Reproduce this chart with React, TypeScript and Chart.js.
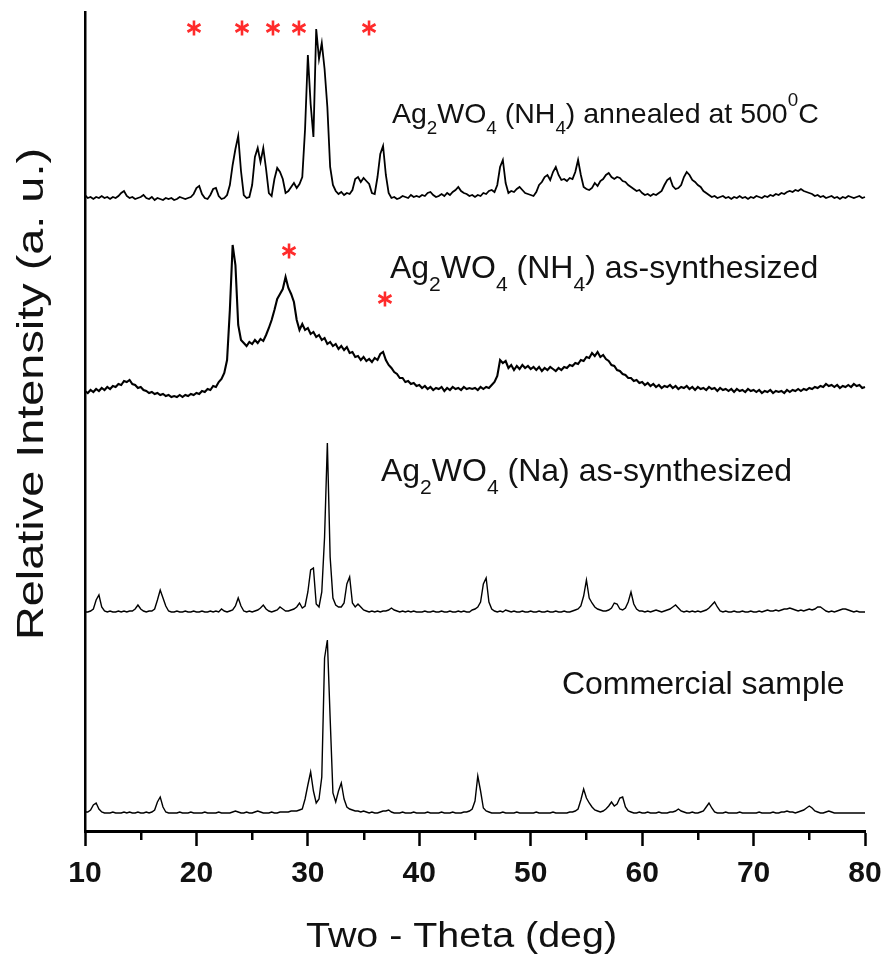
import React, { useEffect, useRef } from 'react';
import { Chart, registerables } from 'chart.js';

Chart.register(...registerables);

// ---- scan grid (two-theta, deg) ----
const THETA_START = 10;
const THETA_STEP = 0.25;
const X_MIN = 10;
const X_MAX = 80;
const X_MAJOR_STEP = 10;
const X_MINOR_TICKS = [15, 25, 35, 45, 55, 65, 75];

// ---- intensities above each pattern's own baseline (a.u.), 10.00 .. 80.00 deg step 0.25 ----
const ANNEALED = [
  4, 1, 2, 0, 2, 1, 3, 1, 2, 0, 2, 1, 3, 6, 8, 3, 1, 2, 0, 1,
  2, 4, 1, 0, 2, -1, 1, 0, -1, 1, 0, 1, -1, 0, 2, 1, 0, 1, 2, 5,
  11, 13, 5, 1, 0, 4, 10, 11, 3, 0, 1, 4, 14, 34, 50, 63, 28, 4, 1, 2,
  14, 42, 51, 37, 51, 30, 6, 3, 20, 31, 27, 20, 6, 8, 12, 16, 11, 15, 22, 70,
  144, 95, 62, 170, 140, 156, 130, 92, 32, 14, 8, 5, 7, 4, 6, 5, 9, 20, 22, 17,
  21, 18, 15, 6, 5, 22, 45, 53, 24, 6, 1, 2, 0, 1, 3, 2, 1, 4, 2, 3,
  2, 4, 3, 6, 7, 4, 2, 3, 5, 3, 6, 4, 7, 9, 12, 8, 6, 5, 3, 4,
  2, 4, 3, 6, 5, 8, 9, 7, 14, 32, 39, 16, 6, 8, 7, 10, 12, 9, 6, 5,
  4, 3, 7, 14, 17, 22, 24, 19, 27, 32, 24, 19, 20, 18, 21, 20, 27, 39, 24, 12,
  10, 9, 11, 16, 13, 18, 20, 24, 26, 22, 20, 22, 21, 18, 17, 14, 12, 10, 8, 9,
  6, 4, 5, 3, 5, 4, 6, 8, 14, 19, 21, 13, 10, 11, 14, 22, 27, 24, 19, 17,
  14, 12, 8, 6, 4, 2, 3, 1, 2, 3, 1, 2, 0, 2, 1, 3, 1, 2, 0, 2,
  1, 3, 2, 1, 3, 2, 4, 3, 5, 4, 6, 5, 7, 8, 7, 9, 8, 10, 8, 7,
  6, 5, 3, 4, 2, 3, 1, 2, 3, 1, 2, 0, 2, 1, 3, 2, 1, 2, 3, 1,
  2,
];

const NH4_AS_SYNTH = [
  -1, -3, 0, -2, 1, -1, 2, 0, 3, 1, 4, 3, 6, 5, 9, 8, 10, 6, 5, 2,
  3, 0, -1, -3, -2, -4, -3, -5, -4, -6, -5, -7, -6, -7, -5, -7, -5, -6, -4, -5,
  -3, -4, -1, -2, 1, 0, 4, 3, 8, 11, 17, 30, 80, 145, 125, 65, 50, 47, 44, 48,
  46, 50, 47, 51, 49, 55, 62, 70, 80, 91, 96, 101, 113, 102, 96, 88, 70, 60, 66, 60,
  62, 56, 58, 53, 55, 50, 52, 46, 48, 44, 46, 41, 44, 40, 43, 37, 38, 33, 34, 30,
  33, 29, 31, 28, 32, 30, 36, 38, 30, 25, 22, 18, 16, 12, 12, 8, 9, 6, 7, 4,
  5, 2, 4, 1, 3, 0, 2, 1, 3, -1, 2, 0, 3, 1, 2, 0, 3, 1, 2, 1,
  2, 0, 3, 1, 3, 2, 5, 8, 14, 30, 27, 29, 22, 25, 20, 24, 21, 25, 22, 24,
  21, 23, 20, 23, 19, 22, 20, 23, 21, 19, 22, 20, 23, 22, 25, 24, 27, 26, 30, 29,
  33, 32, 37, 34, 38, 33, 35, 31, 29, 25, 24, 20, 19, 16, 15, 12, 12, 9, 10, 7,
  8, 5, 7, 4, 6, 3, 5, 2, 4, 3, 5, 2, 4, 1, 3, 2, 4, 1, 3, 0,
  3, 1, 2, 0, 3, 1, 2, -1, 2, 0, 1, -1, 1, -2, 1, -1, 0, -2, 1, -1,
  0, -2, 0, -3, -1, -2, 0, -3, -1, -2, -1, -3, 0, -2, 0, -1, 1, -1, 1, 0,
  2, 1, 3, 2, 4, 3, 6, 4, 5, 3, 5, 2, 4, 3, 5, 3, 6, 4, 5, 2,
  3,
];

const NA_AS_SYNTH = [
  0, 0, 1, 3, 12, 17, 5, 1, 0, 1, 0, 0, 1, 0, 1, 0, 1, 1, 3, 7,
  3, 1, 0, 1, 1, 3, 12, 22, 14, 6, 1, 0, 0, 1, 0, 0, 1, 0, 0, 1,
  0, 0, 1, 0, 0, 1, 0, 1, 0, 3, 1, 0, 1, 2, 6, 14, 6, 1, 0, 1,
  0, 1, 2, 4, 7, 3, 1, 0, 1, 2, 5, 3, 1, 1, 2, 3, 5, 9, 4, 6,
  20, 42, 44, 8, 5, 20, 75, 169, 55, 14, 7, 5, 5, 9, 28, 35, 9, 5, 8, 5,
  2, 1, 0, 1, 0, 1, 0, 1, 1, 2, 4, 2, 1, 0, 1, 0, 1, 0, 1, 0,
  0, 0, 1, 0, 0, 1, 0, 0, 1, 0, 0, 1, 0, 0, 1, 0, 1, 0, 0, 2,
  3, 5, 10, 28, 34, 10, 3, 1, 0, 1, 0, 2, 1, 0, 1, 0, 0, 1, 0, 0,
  1, 0, 0, 1, 0, 0, 1, 0, 0, 1, 0, 0, 1, 0, 0, 1, 2, 3, 6, 16,
  32, 14, 9, 5, 3, 2, 1, 1, 2, 4, 9, 8, 3, 2, 4, 10, 20, 8, 3, 1,
  1, 0, 1, 0, 1, 2, 1, 0, 1, 2, 3, 5, 7, 4, 1, 0, 1, 0, 1, 0,
  1, 0, 1, 2, 4, 7, 10, 5, 1, 0, 1, 0, 0, 1, 0, 0, 1, 0, 0, 1,
  0, 0, 1, 0, 1, 2, 1, 1, 2, 1, 2, 3, 3, 4, 3, 2, 1, 2, 1, 2,
  3, 2, 3, 5, 5, 3, 1, 0, 1, 0, 1, 2, 3, 3, 2, 1, 0, 1, 0, 0,
  0,
];

const COMMERCIAL = [
  1, 1, 3, 8, 10, 4, 1, 0, 0, 0, 1, 0, 0, 0, 1, 0, 1, 0, 0, 1,
  0, 0, 1, 0, 1, 3, 11, 16, 6, 1, 0, 0, 0, 0, 1, 0, 0, 0, 1, 0,
  0, 0, 0, 1, 0, 0, 0, 0, 1, 0, 0, 0, 0, 1, 2, 1, 0, 0, 1, 0,
  0, 1, 2, 1, 0, 0, 0, 1, 0, 0, 1, 1, 1, 1, 2, 2, 2, 3, 4, 14,
  28, 41, 22, 10, 14, 36, 155, 173, 95, 20, 11, 22, 30, 14, 6, 4, 3, 2, 2, 1,
  2, 1, 0, 1, 0, 0, 1, 2, 2, 3, 1, 0, 0, 0, 1, 0, 0, 0, 1, 0,
  0, 0, 0, 1, 0, 0, 0, 0, 1, 0, 0, 0, 1, 0, 0, 0, 1, 1, 2, 4,
  12, 37, 22, 5, 2, 1, 0, 0, 0, 0, 1, 0, 0, 0, 0, 1, 0, 0, 0, 0,
  0, 0, 1, 0, 0, 0, 0, 0, 1, 0, 0, 0, 0, 0, 1, 1, 2, 4, 13, 24,
  15, 10, 6, 3, 2, 1, 2, 4, 7, 11, 7, 9, 15, 16, 6, 2, 1, 0, 0, 1,
  0, 0, 1, 0, 0, 0, 1, 0, 0, 0, 1, 1, 2, 4, 2, 1, 0, 0, 1, 0,
  0, 1, 2, 6, 10, 5, 1, 0, 0, 0, 1, 0, 0, 0, 0, 1, 0, 0, 0, 0,
  0, 0, 1, 0, 0, 0, 0, 1, 0, 0, 1, 1, 2, 1, 1, 0, 1, 2, 3, 5,
  7, 5, 2, 1, 0, 0, 1, 2, 1, 0, 0, 0, 0, 0, 0, 0, 0, 0, 0, 0,
  0,
];

// vertical stacking offsets (a.u.), top pattern first
const SERIES = [ANNEALED, NH4_AS_SYNTH, NA_AS_SYNTH, COMMERCIAL];
const OFFSETS = [632, 441, 219, 18];
const Y_MAX = 819;

// impurity markers (two-theta, a.u.)
const STAR_X = [19.78, 24.09, 26.87, 29.2, 35.49, 28.31, 36.92];
const STAR_Y = [803, 803, 803, 803, 803, 580, 532];

// sample labels ("_x" = subscript, "^x" = superscript)
const LABEL_TEXT = [
  'Ag_2WO_4 (NH_4) annealed at 500^0C',
  'Ag_2WO_4 (NH_4) as-synthesized',
  'Ag_2WO_4 (Na) as-synthesized',
  'Commercial sample',
];
const LABEL_POS = [
  { x: 37.55, y: 708, size: 28.5 },
  { x: 37.37, y: 553, size: 32 },
  { x: 36.56, y: 350, size: 32 },
  { x: 52.8, y: 137, size: 32 },
];

const X_TITLE = 'Two - Theta (deg)';
const Y_TITLE = 'Relative Intensity (a. u.)';

const FONT = '"Liberation Sans", Arial, Helvetica, sans-serif';

function drawRich(ctx: CanvasRenderingContext2D, markup: string, x: number, y: number, size: number) {
  const small = size * 0.66;
  let cx = x;
  let i = 0;
  while (i < markup.length) {
    const ch = markup[i];
    if ((ch === '_' || ch === '^') && i + 1 < markup.length) {
      const c = markup[i + 1];
      ctx.font = `${small}px ${FONT}`;
      const dy = ch === '_' ? size * 0.4 : -size * 0.6;
      ctx.fillText(c, cx, y + dy);
      cx += ctx.measureText(c).width;
      i += 2;
    } else {
      let j = i;
      while (j < markup.length && markup[j] !== '_' && markup[j] !== '^') j++;
      const run = markup.slice(i, j);
      ctx.font = `${size}px ${FONT}`;
      ctx.fillText(run, cx, y);
      cx += ctx.measureText(run).width;
      i = j;
    }
  }
}

const decorPlugin = {
  id: 'decor',
  afterDraw(chart: any) {
    const ctx: CanvasRenderingContext2D = chart.ctx;
    const xs = chart.scales.x;
    const ys = chart.scales.y;
    const area = chart.chartArea;
    ctx.save();

    // minor ticks
    ctx.strokeStyle = '#000';
    ctx.lineWidth = 2.5;
    X_MINOR_TICKS.forEach((v) => {
      const px = Math.round(xs.getPixelForValue(v)) + 0.25;
      ctx.beginPath();
      ctx.moveTo(px, area.bottom);
      ctx.lineTo(px, area.bottom + 9);
      ctx.stroke();
    });

    // labels
    ctx.fillStyle = '#111';
    ctx.textAlign = 'left';
    ctx.textBaseline = 'alphabetic';
    LABEL_TEXT.forEach((t, k) => {
      const p = LABEL_POS[k];
      drawRich(ctx, t, xs.getPixelForValue(p.x), ys.getPixelForValue(p.y), p.size);
    });

    // asterisks
    ctx.strokeStyle = '#ff2b2b';
    ctx.lineWidth = 2.6;
    ctx.lineCap = 'butt';
    STAR_X.forEach((sx, k) => {
      const cx = xs.getPixelForValue(sx);
      const cy = ys.getPixelForValue(STAR_Y[k]);
      const r = 7.5;
      for (let a = 0; a < 3; a++) {
        const ang = Math.PI / 2 + (a * Math.PI) / 3;
        ctx.beginPath();
        ctx.moveTo(cx - r * Math.cos(ang), cy - r * Math.sin(ang));
        ctx.lineTo(cx + r * Math.cos(ang), cy + r * Math.sin(ang));
        ctx.stroke();
      }
    });

    // axis titles
    ctx.fillStyle = '#111';
    ctx.font = `35px ${FONT}`;
    ctx.textAlign = 'center';
    const xw = ctx.measureText(X_TITLE).width;
    ctx.save();
    ctx.translate(461.5, 947);
    ctx.scale(311 / xw, 1);
    ctx.fillText(X_TITLE, 0, 0);
    ctx.restore();

    ctx.font = `36px ${FONT}`;
    const yw = ctx.measureText(Y_TITLE).width;
    ctx.save();
    ctx.translate(43, 394);
    ctx.rotate(-Math.PI / 2);
    ctx.scale(492 / yw, 1);
    ctx.fillText(Y_TITLE, 0, 0);
    ctx.restore();

    ctx.restore();
  },
};

export default function App() {
  const ref = useRef<HTMLCanvasElement>(null);

  useEffect(() => {
    if (!ref.current) return;
    Chart.defaults.color = '#000';
    const widths = [1.8, 2.1, 1.4, 1.4];
    const datasets = SERIES.map((s, k) => ({
      label: `pattern ${k + 1}`,
      data: s.map((v, i) => ({ x: THETA_START + i * THETA_STEP, y: v + OFFSETS[k] })),
      borderColor: '#000',
      borderWidth: widths[k],
      pointRadius: 0,
      tension: 0,
      fill: false,
      clip: false as any,
    }));
    const chart = new Chart(ref.current, {
      type: 'line',
      data: { datasets },
      options: {
        responsive: false,
        animation: false,
        events: [],
        layout: { padding: { left: 85, right: 21, top: 12, bottom: 0 } },
        plugins: { legend: { display: false }, tooltip: { enabled: false }, title: { display: false } },
        scales: {
          x: {
            type: 'linear',
            min: X_MIN,
            max: X_MAX,
            afterFit: (s: any) => { s.height = 125; s.paddingLeft = 0; s.paddingRight = 0; },
            ticks: {
              stepSize: X_MAJOR_STEP,
              autoSkip: false,
              maxRotation: 0,
              padding: 10,
              color: '#111',
              font: { family: FONT, size: 30, weight: 'bold' },
            },
            grid: {
              display: true,
              drawOnChartArea: false,
              drawTicks: true,
              tickLength: 15,
              tickWidth: 2.5,
              tickColor: '#000',
            },
            border: { display: true, width: 3, color: '#000' },
          },
          y: {
            type: 'linear',
            min: 0,
            max: Y_MAX,
            afterFit: (s: any) => { s.width = 0; },
            ticks: { display: false },
            grid: { display: false, drawTicks: false },
            border: { display: true, width: 2.5, color: '#000' },
          },
        },
      },
      plugins: [decorPlugin],
    } as any);
    return () => chart.destroy();
  }, []);

  return (
    <div style={{ position: 'absolute', left: 0, top: 0, width: 886, height: 956, background: '#fff' }}>
      <canvas ref={ref} width={886} height={956} style={{ display: 'block', width: '886px', height: '956px' }} />
    </div>
  );
}
